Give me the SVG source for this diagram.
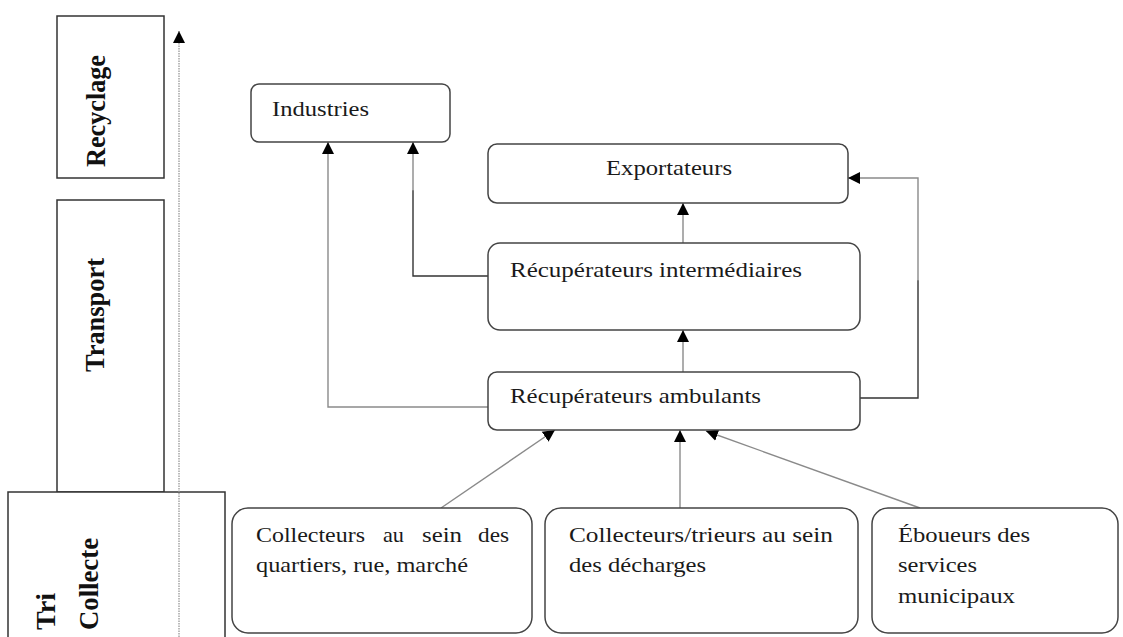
<svg xmlns="http://www.w3.org/2000/svg" width="1123" height="637" viewBox="0 0 1123 637">
<style>
.stage{fill:#fff;stroke:#333;stroke-width:1.5}
.node{fill:#fff;stroke:#444;stroke-width:1.5}
.lbl{font-family:"Liberation Serif","Times New Roman",serif;font-size:21px;fill:#1a1a1a}
.stg{font-family:"Liberation Serif","Times New Roman",serif;font-size:27px;font-weight:bold;fill:#111}
.c{fill:none;stroke:#8a8a8a;stroke-width:1.4}
.d{fill:none;stroke:#333;stroke-width:1.4}
</style>
<defs>
<marker id="ah" viewBox="0 0 10 10" refX="10" refY="5" markerWidth="12" markerHeight="13" markerUnits="userSpaceOnUse" orient="auto">
<path d="M0,0 L10,5 L0,10 z" fill="#000"/>
</marker>
</defs>
<rect width="1123" height="637" fill="#fff"/>

<g id="stage-recyclage">
<rect class="stage" x="57" y="16" width="107" height="162"/>
<text class="stg" transform="rotate(-90 105 111)" x="105" y="111" text-anchor="middle" textLength="112" lengthAdjust="spacingAndGlyphs">Recyclage</text>
</g>
<g id="stage-transport">
<rect class="stage" x="57" y="200" width="107" height="292"/>
<text class="stg" transform="rotate(-90 104 315)" x="104" y="315" text-anchor="middle" textLength="114" lengthAdjust="spacingAndGlyphs">Transport</text>
</g>
<g id="stage-tri-collecte">
<rect class="stage" x="8" y="492" width="217" height="150"/>
<text class="stg" transform="rotate(-90 55 630)" x="55" y="630" textLength="37" lengthAdjust="spacingAndGlyphs">Tri</text>
<text class="stg" transform="rotate(-90 98 630)" x="98" y="630" textLength="92" lengthAdjust="spacingAndGlyphs">Collecte</text>
</g>
<g id="timeline">
<line x1="179" y1="637" x2="179" y2="31" stroke="#999" stroke-width="1.3" stroke-dasharray="1.5,1" marker-end="url(#ah)"/>
</g>

<g id="connectors">
<polyline class="c" points="488,407 328,407 328,142" marker-end="url(#ah)"/>
<polyline class="d" points="488,276 413,276 413,190"/>
<polyline class="c" points="413,191 413,142" marker-end="url(#ah)"/>
<line class="c" x1="683" y1="243" x2="683" y2="203" marker-end="url(#ah)"/>
<line class="c" x1="683" y1="372" x2="683" y2="330" marker-end="url(#ah)"/>
<polyline class="d" points="860,398 918,398 918,280"/>
<polyline class="c" points="918,281 918,178 848,178" marker-end="url(#ah)"/>
<line class="c" x1="441" y1="508" x2="555" y2="430" marker-end="url(#ah)"/>
<line class="c" x1="680" y1="508" x2="680" y2="430" marker-end="url(#ah)"/>
<line class="c" x1="920" y1="508" x2="706" y2="431" marker-end="url(#ah)"/>
</g>

<g id="industries">
<rect class="node" x="251" y="84" width="199" height="58" rx="8"/>
<text class="lbl" x="272" y="116" textLength="97" lengthAdjust="spacingAndGlyphs">Industries</text>
</g>
<g id="exportateurs">
<rect class="node" x="488" y="144" width="360" height="59" rx="9"/>
<text class="lbl" x="606" y="175" textLength="126" lengthAdjust="spacingAndGlyphs">Exportateurs</text>
</g>
<g id="recup-intermediaires">
<rect class="node" x="488" y="243" width="372" height="87" rx="12"/>
<text class="lbl" x="510" y="277" textLength="292" lengthAdjust="spacingAndGlyphs">Récupérateurs intermédiaires</text>
</g>
<g id="recup-ambulants">
<rect class="node" x="488" y="372" width="372" height="58" rx="9"/>
<text class="lbl" x="510" y="403" textLength="251" lengthAdjust="spacingAndGlyphs">Récupérateurs ambulants</text>
</g>
<g id="collecteurs-quartiers">
<rect class="node" x="232" y="508" width="300" height="125" rx="16"/>
<text class="lbl" x="256" y="542" textLength="109" lengthAdjust="spacingAndGlyphs">Collecteurs</text>
<text class="lbl" x="383" y="542" textLength="21" lengthAdjust="spacingAndGlyphs">au</text>
<text class="lbl" x="422" y="542" textLength="40" lengthAdjust="spacingAndGlyphs">sein</text>
<text class="lbl" x="478" y="542" textLength="31" lengthAdjust="spacingAndGlyphs">des</text>
<text class="lbl" x="256" y="572" textLength="212" lengthAdjust="spacingAndGlyphs">quartiers, rue, marché</text>
</g>
<g id="collecteurs-decharges">
<rect class="node" x="545" y="508" width="313" height="125" rx="16"/>
<text class="lbl" x="569" y="542" textLength="264" lengthAdjust="spacingAndGlyphs">Collecteurs/trieurs au sein</text>
<text class="lbl" x="569" y="572" textLength="137" lengthAdjust="spacingAndGlyphs">des décharges</text>
</g>
<g id="eboueurs">
<rect class="node" x="872" y="508" width="246" height="125" rx="16"/>
<text class="lbl" x="898" y="542" textLength="132" lengthAdjust="spacingAndGlyphs">Éboueurs des</text>
<text class="lbl" x="898" y="572" textLength="79" lengthAdjust="spacingAndGlyphs">services</text>
<text class="lbl" x="898" y="603" textLength="117" lengthAdjust="spacingAndGlyphs">municipaux</text>
</g>
</svg>
